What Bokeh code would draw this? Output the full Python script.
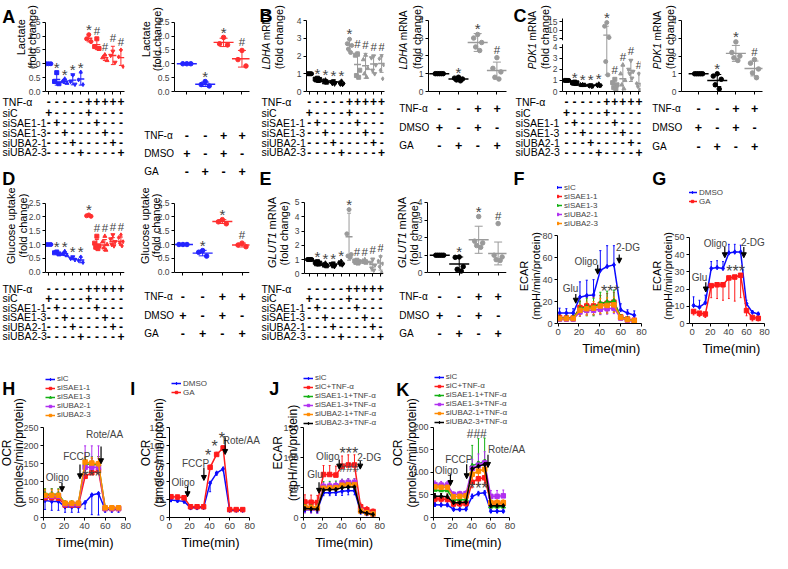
import numpy as np
from bokeh.plotting import figure
from bokeh.models import (ColumnDataSource, LabelSet, FixedTicker, Range1d, GridBox,
                          Arrow, NormalHead, Legend, LegendItem, Spacer, PrintfTickFormatter)
from bokeh.layouts import row, column
from bokeh.embed import file_html
from bokeh.resources import INLINE
from bokeh.core.properties import value

SX = 770 / 788
SY = 550 / 569
FONT = "Liberation Sans"

BLUE = "#2424ff"; RED = "#ff2f2f"; GRAY = "#9a9a9a"; BLACK = "#000000"
C_BLUE = "#0a0aff"; C_RED = "#ff1a1a"; C_GREEN = "#12b012"; C_PURPLE = "#b030f0"; C_ORANGE = "#ff8a00"; C_BLACK = "#000000"

# ---------------- DATA ----------------
left_rows = ["TNF-α", "siC", "siSAE1-1", "siSAE1-3", "siUBA2-1", "siUBA2-3"]
left_marks = [
    ["-", "-", "-", "-", "-", "+", "+", "+", "+", "+"],
    ["+", "-", "-", "-", "-", "+", "-", "-", "-", "-"],
    ["-", "+", "-", "-", "-", "-", "+", "-", "-", "-"],
    ["-", "-", "+", "-", "-", "-", "-", "+", "-", "-"],
    ["-", "-", "-", "+", "-", "-", "-", "-", "+", "-"],
    ["-", "-", "-", "-", "+", "-", "-", "-", "-", "+"],
]
right_rows = ["TNF-α", "DMSO", "GA"]
right_marks = [["-", "-", "+", "+"], ["+", "-", "+", "-"], ["-", "+", "-", "+"]]
sig_left = ["", "*", "*", "*", "*", "*", "#", "#", "#", "#"]
sig_right = ["", "*", "*", "#"]

A_l_points = [[1.0, 1.0, 1.0], [0.68, 0.36, 0.28], [0.45, 0.36, 0.3], [0.6, 0.36, 0.26], [0.7, 0.42, 0.25],
              [2.05, 1.9, 1.8], [1.9, 1.62, 1.55], [1.32, 1.22, 1.12], [1.45, 1.3, 1.05], [1.5, 1.25, 0.9]]
A_l_mean = [1.0, 0.43, 0.37, 0.41, 0.45, 1.92, 1.69, 1.22, 1.3, 1.22]
A_l_sd = [0.02, 0.2, 0.08, 0.17, 0.22, 0.13, 0.18, 0.1, 0.33, 0.28]
A_r_points = [[1.0, 1.0, 1.0], [0.36, 0.25, 0.2], [1.95, 1.72, 1.68], [1.48, 1.15, 0.92]]
A_r_mean = [1.0, 0.26, 1.77, 1.18]
A_r_sd = [0.0, 0.08, 0.15, 0.3]

B_l_points = [[1.0, 1.0, 1.0, 1.0, 1.0], [0.75, 0.7, 0.68, 0.65, 0.62], [0.65, 0.6, 0.55, 0.5, 0.48],
              [0.6, 0.55, 0.5, 0.45, 0.42], [0.6, 0.5, 0.45, 0.4, 0.38], [2.95, 2.7, 2.6, 2.4, 2.2],
              [2.1, 2.05, 1.2, 0.9, 0.8], [2.05, 1.8, 1.3, 1.0, 0.8], [2.0, 1.9, 1.5, 1.2, 1.0],
              [2.0, 1.85, 1.5, 1.2, 0.72]]
B_l_mean = [1.0, 0.68, 0.56, 0.5, 0.47, 2.62, 1.52, 1.45, 1.55, 1.58]
B_l_sd = [0.01, 0.05, 0.08, 0.08, 0.1, 0.35, 0.72, 0.7, 0.5, 0.5]
B_r_points = [[1.0, 1.0, 1.0, 1.0, 1.0], [0.8, 0.75, 0.7, 0.65, 0.6], [3.2, 3.0, 2.75, 2.5, 2.3],
              [1.9, 1.3, 1.1, 0.8, 0.7]]
B_r_mean = [1.0, 0.7, 2.75, 1.18]
B_r_sd = [0.0, 0.08, 0.5, 0.47]

C_l_points = [[1.0, 1.0, 1.0, 1.0, 1.0], [0.85, 0.8, 0.78, 0.75, 0.72], [0.62, 0.6, 0.58, 0.55, 0.55],
              [0.6, 0.55, 0.5, 0.5, 0.45], [0.7, 0.6, 0.55, 0.5, 0.5], [14.5, 12.3, 5.5, 2.7, 1.5],
              [1.1, 0.8, 0.6, 0.35, 0.25], [2.4, 1.6, 1.0, 0.6, 0.25], [2.8, 2.0, 1.8, 1.6, 1.2],
              [1.6, 0.72, 0.6, 0.45, 0.15]]
C_l_mean = [1.0, 0.78, 0.58, 0.52, 0.57, 6.9, 0.62, 1.15, 1.9, 0.72]
C_l_sd = [0.01, 0.05, 0.03, 0.05, 0.08, 5.4, 0.6, 1.15, 1.0, 0.95]
C_l_ticks = [0, 1, 2, 3, 4, 5, 10, 15]
C_r_points = [[1.0, 1.0, 1.0, 1.0, 1.0], [1.0, 0.87, 0.69, 0.38, 0.14], [2.8, 2.2, 2.0, 1.9, 1.75],
              [1.8, 1.6, 1.27, 1.05, 0.78]]
C_r_mean = [1.0, 0.62, 2.15, 1.3]
C_r_sd = [0.0, 0.34, 0.45, 0.42]

D_l_points = [[1.0, 1.0, 1.0], [0.73, 0.7, 0.66], [0.75, 0.65, 0.6], [0.55, 0.5, 0.45], [0.55, 0.42, 0.35],
              [2.07, 2.04, 2.02], [1.3, 1.05, 0.95, 0.9, 0.85], [1.3, 1.1, 1.0, 0.88, 0.8],
              [1.35, 1.2, 1.1, 1.0, 0.95], [1.35, 1.25, 1.1, 1.05, 0.95]]
D_l_mean = [1.0, 0.7, 0.67, 0.5, 0.44, 2.04, 1.0, 0.98, 1.1, 1.12]
D_l_sd = [0.01, 0.03, 0.07, 0.05, 0.1, 0.03, 0.18, 0.2, 0.15, 0.15]
D_r_points = [[1.0, 1.0, 1.0], [0.78, 0.72, 0.58], [1.9, 1.82, 1.75], [1.05, 0.98, 0.92]]
D_r_mean = [1.0, 0.69, 1.83, 0.98]
D_r_sd = [0.0, 0.1, 0.07, 0.07]

E_l_points = [[1.0, 1.0, 1.0, 1.0, 1.0], [0.85, 0.8, 0.75, 0.7, 0.68], [0.75, 0.65, 0.6, 0.55, 0.5],
              [0.75, 0.7, 0.62, 0.55, 0.5], [0.9, 0.8, 0.7, 0.65, 0.6], [4.5, 2.8, 1.35, 1.25, 1.15],
              [0.95, 0.9, 0.85, 0.8, 0.75], [1.0, 0.9, 0.85, 0.8, 0.75], [1.0, 0.8, 0.6, 0.4, 0.25],
              [1.2, 0.9, 0.7, 0.5, 0.1]]
E_l_mean = [1.0, 0.75, 0.62, 0.62, 0.72, 2.6, 0.86, 0.85, 0.65, 0.76]
E_l_sd = [0.01, 0.07, 0.1, 0.1, 0.12, 1.65, 0.1, 0.1, 0.45, 0.5]
E_r_points = [[1.0, 1.0, 1.0, 1.0, 1.0], [0.9, 0.88, 0.35, 0.2, 0.1], [3.2, 1.8, 1.7, 1.55, 1.45],
              [2.8, 1.0, 0.9, 0.75, 0.7]]
E_r_mean = [1.0, 0.5, 1.88, 1.1]
E_r_sd = [0.0, 0.4, 0.77, 0.65]

times = [1.5, 8, 14.5, 21, 27.5, 34, 40.5, 47, 53.5, 60, 66.5, 73]

F_labels = ["siC", "siSAE1-1", "siSAE1-3", "siUBA2-1", "siUBA2-3"]
F_vals = [[9.5, 9.5, 9.5, 24, 25.5, 26, 48.5, 52, 53.5, 12.5, 9.5, 7.5],
          [5.5, 5, 5, 14.5, 16, 16, 17.5, 18.5, 19.5, 6, 4, 3],
          [5, 5, 5, 13.5, 15, 15, 18.5, 19.5, 20.5, 6, 4, 2.5],
          [4, 4, 4, 10.5, 12, 12, 13, 13.5, 14, 5, 3, 2],
          [4.5, 4.5, 4.5, 12, 13.5, 14, 16, 16.5, 17, 5.5, 3.5, 2.5]]
F_err = [[4.5, 4, 4, 14, 14, 14, 18, 19, 17.5, 5.5, 3, 4],
         [2, 2, 2, 6, 8, 8, 8, 9, 9, 2, 1.5, 1.5],
         [2.5, 2.5, 2.5, 7, 8, 8, 10, 10, 10, 2, 2, 1.5],
         [1.5, 1.5, 1.5, 4, 4, 4, 5, 5, 5, 1.5, 1, 1],
         [2, 2, 2, 5, 6, 6, 7, 7, 7, 2, 1.5, 1.5]]
F_dirs = ["up", "both", "both", "both", "both"]
F_words = ["Glu", "Oligo", "2-DG", "***"]
F_wx = [12, 27, 67, 50]
F_wy = [31.6, 56.5, 69, 32]
F_ax = [17, 38, 58.6]; F_ay0 = [27, 53.5, 63]; F_ay1 = [18.5, 45, 55]

G_labels = ["DMSO", "GA"]
G_vals = [[10.5, 9.5, 12, 32, 32.5, 32, 41, 41.5, 41.5, 11.5, 6.5, 5.5],
          [7, 6, 5.5, 22, 22.5, 22.5, 26.5, 27, 28, 7.5, 3.5, 3]]
G_err = [[5, 4, 4.5, 4, 4, 4, 5, 4.5, 4, 2, 1, 1],
         [2, 2, 2, 7, 8, 9, 12, 14, 13, 3, 2, 1.5]]
G_dirs = ["up", "down"]
G_words = ["Glu", "Oligo", "2-DG", "***"]
G_wx = [8, 25.6, 67, 48]
G_wy = [26.7, 46.6, 47, 32]
G_ax = [15, 36, 57]; G_ay0 = [24, 44.4, 44.4]; G_ay1 = [18.3, 38.2, 38.2]

H_labels = ["siC", "siSAE1-1", "siSAE1-3", "siUBA2-1", "siUBA2-3"]
H_vals = [[47.5, 45, 45, 29.5, 29.5, 29.5, 42, 63, 67, 22.5, 22.5, 22.5],
          [55, 55, 54, 35, 35, 35, 115, 125, 130, 25, 25, 25],
          [65, 65, 65, 40, 40, 40, 150, 148, 148, 27, 27, 27],
          [60, 60, 60, 38, 38, 38, 140, 140, 140, 25, 25, 25],
          [62, 62, 62, 40, 40, 40, 155, 152, 150, 27, 27, 27]]
H_err = [[25, 25, 25, 15, 15, 15, 18, 55, 60, 8, 8, 8],
         [25, 25, 25, 8, 8, 8, 40, 40, 40, 6, 6, 6],
         [15, 15, 15, 6, 6, 6, 18, 22, 22, 6, 6, 6],
         [12, 12, 12, 6, 6, 6, 60, 60, 60, 6, 6, 6],
         [15, 15, 15, 6, 6, 6, 15, 15, 15, 6, 6, 6]]
H_dirs = ["down", "up", "up", "up", "up"]
H_words = ["Oligo", "FCCP", "Rote/AA", "***"]
H_wx = [13.6, 32.4, 59.4, 46.7]
H_wy = [112, 170, 231, 124]
H_ax = [18, 35.5, 56]; H_ay0 = [97, 148, 198]; H_ay1 = [72, 108, 150]

I_labels = ["DMSO", "GA"]
I_vals = [[24.5, 23.5, 22.5, 13.5, 13.5, 14, 48, 62, 68, 10, 10, 10],
          [29, 28.5, 27.5, 15, 15, 15, 70, 88, 97, 11, 11, 11]]
I_err = [[2, 2, 2, 2, 2, 2, 12, 3, 3, 1.5, 1.5, 1.5],
         [2.5, 2.5, 2.5, 2, 2, 2, 3, 3, 3, 1.5, 1.5, 1.5]]
I_dirs = ["down", "up"]
I_words = ["Oligo", "FCCP", "Rote/AA", "*", "*", "*"]
I_wx = [13.6, 26, 71.6, 38.6, 45, 52.3]
I_wy = [49.5, 75, 108, 91.3, 103.4, 115.6]
I_ax = [18, 34.3, 55.5]; I_ay0 = [43.6, 69.7, 112]; I_ay1 = [29, 51.7, 88]

JK_labels = ["siC", "siC+TNF-α", "siSAE1-1+TNF-α", "siSAE1-3+TNF-α", "siUBA2-1+TNF-α", "siUBA2-3+TNF-α"]
J_vals = [[13, 13, 12.5, 41.5, 41.5, 42, 44, 45, 45, 9, 6, 5],
          [26, 25.5, 25, 72, 72, 71, 86, 88, 88, 18, 13, 10],
          [18, 17.5, 17, 50, 50.5, 51, 56, 57, 57, 12, 8, 6],
          [16, 15.5, 15, 52, 52.5, 53, 58, 59, 59, 12, 8, 6],
          [17, 16.5, 16, 49, 49.5, 50, 54, 55, 55, 11, 8, 6],
          [15, 14.5, 14, 46, 47, 47, 50, 51, 51, 10, 7, 5]]
J_err = [[5, 5, 5, 5, 5, 5, 7, 7, 7, 3, 2, 2],
         [12, 12, 12, 15, 15, 15, 17, 17, 17, 6, 5, 4],
         [5, 5, 5, 10, 10, 10, 8, 8, 8, 3, 3, 2],
         [8, 8, 8, 6, 6, 6, 6, 6, 6, 3, 2, 2],
         [6, 6, 6, 6, 6, 6, 6, 6, 6, 3, 2, 2],
         [5, 5, 5, 5, 5, 5, 5, 5, 5, 3, 2, 2]]
J_dirs = ["both", "up", "both", "both", "both", "both"]
J_words = ["Glu", "Oligo", "***", "###", "2-DG"]
J_wx = [12, 25.5, 47.7, 48.3, 69]
J_wy = [72, 102, 113, 83.6, 100]
J_ax = [16.3, 37.5, 59.6]; J_ay0 = [59, 97, 94.6]; J_ay1 = [40.5, 81, 81]

K_vals = [[28.5, 28, 28, 18, 18, 18.5, 47, 53, 55, 14, 14, 14],
          [41, 41, 40, 30, 30.5, 31, 78, 86, 88, 32, 32, 32],
          [61, 60, 60, 39, 39.5, 40, 115, 120, 124, 24, 24, 24],
          [73, 72, 72, 51, 52, 53, 109, 116, 121, 47, 47, 48],
          [68, 67, 67, 46, 47, 48, 96, 103, 107, 33, 33, 33],
          [47, 47, 46, 33, 33, 34, 108, 114, 118, 26, 26, 26]]
K_err = [[4, 4, 4, 3, 3, 3, 5, 5, 5, 3, 3, 3],
         [12, 12, 12, 6, 6, 6, 12, 12, 12, 6, 6, 6],
         [10, 10, 10, 8, 8, 8, 45, 55, 52, 8, 8, 8],
         [8, 8, 8, 6, 6, 6, 20, 25, 25, 13, 13, 13],
         [8, 8, 8, 6, 6, 6, 15, 15, 15, 6, 6, 6],
         [6, 6, 6, 5, 5, 5, 10, 10, 10, 5, 5, 5]]
K_dirs = ["both", "both", "up", "up", "both", "both"]
K_words = ["Oligo", "FCCP", "###", "***", "Rote/AA"]
K_wx = [13.6, 26.5, 45.2, 47, 76.5]
K_wy = [105, 128.6, 186, 71, 150]
K_ax = [17.7, 34.7, 57]; K_ay0 = [96, 118, 139]; K_ay1 = [71, 86, 111]

# ---------------- HELPERS ----------------
AW = {'L': .556, 'D': .722, 'H': .722, 'A': .667, 'P': .667, 'K': .667, '1': .556, 'G': .778,
      'U': .722, 'T': .611, ' ': .278, 'm': .833, 'R': .722, 'N': .722}


def tw(s, size):
    return sum(AW.get(c, .556) for c in s) * size


TL = dict(x=[], y=[], t=[], size=[], align=[], base=[], angle=[], style=[])


def tl_add(text, x, y, size, align="left", base="middle", angle=0.0, style="normal"):
    TL["x"].append(x); TL["y"].append(y); TL["t"].append(text)
    TL["size"].append(f"{size}px"); TL["align"].append(align); TL["base"].append(base)
    TL["angle"].append(angle); TL["style"].append(style)


def tl_ylab(line1, line2, x1, x2, yc, size, gene=None, size1=None, yc1=None):
    ang = np.pi / 2
    s1 = size if size1 is None else size1
    y1 = yc if yc1 is None else yc1
    if gene is None:
        tl_add(line1, x1, y1, s1, "center", "middle", ang)
    else:
        wg = tw(gene, s1) / SY
        wsp = tw(" ", s1) / SY
        wr = tw(line1, s1) / SY
        bottom = y1 + (wg + wsp + wr) / 2
        tl_add(gene, x1, bottom, s1, "left", "middle", ang, "italic")
        tl_add(line1, x1, bottom - wg - wsp, s1, "left", "middle", ang)
    tl_add(line2, x2, yc, size, "center", "middle", ang)


def make_fig(region, band, frame, xr, yr, ext_top=0.0, ext_right=0.0, ext_bottom=0.0):
    fx0, fy0, fx1, fy1 = frame
    ppx_ref = (fx1 - fx0) / (xr[1] - xr[0])
    ppy_ref = (fy1 - fy0) / (yr[1] - yr[0])
    xr2 = (xr[0], xr[1] + ext_right / ppx_ref)
    yr2 = (yr[0] - ext_bottom / ppy_ref, yr[1] + ext_top / ppy_ref)
    L, R = round(region[0] * SX), round(region[1] * SX)
    T, B = round(band[0] * SY), round(band[1] * SY)
    FL, FT = round(fx0 * SX), round((fy0 - ext_top) * SY)
    FR, FB = round((fx1 + ext_right) * SX), round((fy1 + ext_bottom) * SY)
    p = figure(width=R - L, height=B - T, x_range=Range1d(*xr2), y_range=Range1d(*yr2),
               min_border_left=FL - L, min_border_right=R - FR,
               min_border_top=FT - T, min_border_bottom=B - FB,
               output_backend="svg", toolbar_location=None, tools="")
    p.outline_line_color = None
    p.xgrid.visible = False
    p.ygrid.visible = False
    p.border_fill_alpha = 0
    p.background_fill_alpha = 0
    info = dict(FL=FL, FT=FT, FR=FR, FB=FB, W=FR - FL, H=FB - FT, xr=xr2, yr=yr2,
                fx0=fx0, xr0=xr[0], ppx_ref=ppx_ref, fy1=fy1, yr0=yr[0], ppy_ref=ppy_ref)
    return p, info


def style_axis(ax, ticks, size, show=True, fmt=None, overrides=None, bounds=None):
    ax.ticker = FixedTicker(ticks=list(ticks), minor_ticks=[])
    ax.axis_line_color = "black"
    ax.axis_line_width = 1
    ax.major_tick_line_color = "black"
    ax.major_tick_out = 3
    ax.major_tick_in = 0
    ax.minor_tick_line_color = None
    ax.major_label_text_font = FONT
    ax.major_label_text_font_size = f"{size}px"
    ax.major_label_standoff = 2
    if fmt is not None:
        ax.formatter = fmt
    if not show:
        ax.major_label_overrides = {t: "" for t in ticks}
    elif overrides is not None:
        ax.major_label_overrides = overrides
    if bounds is not None:
        ax.bounds = bounds


LEFT_MARKERS = ["circle", "square", "triangle", "inverted_triangle", "diamond"] * 2


def dot_panel(p, info, points, means, sds, colors, markers, sig, msize, mean_hw_px, cap_hw_px, jit_px, disp=None):
    f = disp if disp is not None else (lambda v: np.asarray(v, float))
    ppx = info["W"] / (info["xr"][1] - info["xr"][0])
    ppy = info["H"] / (info["yr"][1] - info["yr"][0])
    n = len(means)
    g = np.arange(1, n + 1, dtype=float)
    m = np.array(means, float)
    s = np.array(sds, float)
    mhw, chw, jit = mean_hw_px / ppx, cap_hw_px / ppx, jit_px / ppx
    p.segment(x0=g, x1=g, y0=np.maximum(f(m - s), 0), y1=f(m + s), line_color=colors, line_width=1)
    p.segment(x0=g - chw, x1=g + chw, y0=f(m + s), y1=f(m + s), line_color=colors, line_width=1)
    lo = f(m - s)
    keep = lo >= 0
    p.segment(x0=(g - chw)[keep], x1=(g + chw)[keep], y0=lo[keep], y1=lo[keep],
              line_color=list(np.array(colors)[keep]), line_width=1)
    p.segment(x0=g - mhw, x1=g + mhw, y0=f(m), y1=f(m), line_color=colors, line_width=1.4)
    pattern = [0.0, -1.0, 1.0, -0.5, 0.5, 0.0]
    xs, ys, cs, ms = [], [], [], []
    for i, pts in enumerate(points):
        for k, v in enumerate(pts):
            xs.append(g[i] + pattern[k % len(pattern)] * jit)
            ys.append(float(f(v)))
            cs.append(colors[i])
            ms.append(markers[i])
    src = ColumnDataSource(dict(x=xs, y=ys, c=cs, mk=ms))
    p.scatter(x="x", y="y", marker="mk", size=msize, fill_color="c", line_color="c", source=src)
    tops = np.array([max(max(pts), mm + ss) for pts, mm, ss in zip(points, m, s)])
    off = np.array([5.0 if t == "*" else 8.0 for t in sig])
    ys2 = f(tops) + off / ppy
    fs = ["15px" if t == "*" else "11.5px" for t in sig]
    ssrc = ColumnDataSource(dict(x=g, y=ys2, t=sig, fs=fs))
    p.add_layout(LabelSet(x="x", y="y", text="t", source=ssrc, text_font=value(FONT),
                          text_font_size="fs", text_align="center", text_baseline="middle"))


def tl_table(info, rows, marks, rows_y, label_x, lab_size, sym_size):
    for r, lbl in enumerate(rows):
        tl_add(lbl, label_x, rows_y[r], lab_size, "left", "middle")
        for i, t in enumerate(marks[r]):
            gx = info["fx0"] + (i + 1 - info["xr0"]) * info["ppx_ref"]
            tl_add(t, gx, rows_y[r], sym_size, "center", "middle", 0.0, "bold")


def dot_figure(region, band, frame, xr, yr, yticks, points, means, sds, colors, sig, rows, marks,
               rows_y, label_x, ylabel, wide, row_top, row_bottom, fmt=None, overrides=None, disp=None):
    ext_top = frame[1] - row_top
    ext_bottom = row_bottom - frame[3]
    p, info = make_fig(region, band, frame, xr, yr, ext_top=ext_top, ext_bottom=max(ext_bottom, 0))
    style_axis(p.yaxis[0], yticks, 8.5, fmt=fmt, overrides=overrides, bounds=yr)
    style_axis(p.xaxis[0], list(range(1, len(means) + 1)), 8.5, show=False)
    if ext_bottom > 1:
        p.xaxis[0].fixed_location = yr[0]
    if wide:
        dot_panel(p, info, points, means, sds, colors, ["circle"] * len(means), sig, 4.5, 10, 4, 4, disp)
        tl_table(info, rows, marks, rows_y, label_x, 10, 12.5)
    else:
        dot_panel(p, info, points, means, sds, colors, LEFT_MARKERS, sig, 4, 3.5, 2, 2.2, disp)
        tl_table(info, rows, marks, rows_y, label_x, 10.5, 12)
    tl_ylab(*ylabel)
    return p, info


def ts_figure(region, band, frame, xr, yr, yticks, vals, errs, dirs, colors, markers, labels,
              leg_x, leg_yc, words, wx, wy, ax_x, ay0, ay1, ylabel, tlabel, ext_right, row_top):
    ext_top = frame[1] - row_top
    p, info = make_fig(region, band, frame, xr, yr, ext_top=ext_top, ext_right=ext_right)
    style_axis(p.xaxis[0], [0, 20, 40, 60, 80], 9.5, bounds=xr)
    style_axis(p.yaxis[0], yticks, 9, bounds=yr)
    ppy = info["H"] / (info["yr"][1] - info["yr"][0])
    t = np.array(times, float)
    cap = 1.0
    for v, e, d, c in zip(vals, errs, dirs, colors):
        v = np.array(v, float)
        e = np.array(e, float)
        lo = np.maximum(v - e, 0) if d in ("down", "both") else v
        hi = v + e if d in ("up", "both") else v
        p.segment(x0=t, x1=t, y0=lo, y1=hi, line_color=c, line_width=1)
        if d in ("up", "both"):
            p.segment(x0=t - cap, x1=t + cap, y0=hi, y1=hi, line_color=c, line_width=1)
        if d in ("down", "both"):
            p.segment(x0=t - cap, x1=t + cap, y0=lo, y1=lo, line_color=c, line_width=1)
    items = []
    for v, c, mk, lb in zip(vals, colors, markers, labels):
        r1 = p.line(t, v, line_color=c, line_width=1.5)
        r2 = p.scatter(t, v, marker=mk, size=4.5, fill_color=c, line_color=c)
        items.append(LegendItem(label=lb, renderers=[r1, r2]))
    row_h = 8.0
    n = len(items)
    bottom_px = leg_yc * SY + n * row_h / 2
    leg = Legend(items=items, location=(leg_x * SX - info["FL"], info["FB"] - bottom_px),
                 glyph_width=10, glyph_height=6, label_height=6, label_standoff=2, spacing=0,
                 padding=0, margin=0, border_line_color=None, background_fill_alpha=0,
                 label_text_font=FONT, label_text_font_size="8px")
    p.add_layout(leg)
    fs = []
    yy = []
    for w, y in zip(words, wy):
        if set(w) == {"*"}:
            fs.append("16px")
            yy.append(y - 3.5 / ppy)
        elif set(w) == {"#"}:
            fs.append("12px")
            yy.append(y)
        else:
            fs.append("10px")
            yy.append(y)
    src = ColumnDataSource(dict(x=wx, y=yy, t=words, fs=fs))
    p.add_layout(LabelSet(x="x", y="y", text="t", source=src, text_font=value(FONT),
                          text_font_size="fs", text_align="center", text_baseline="middle"))
    for x, y0, y1 in zip(ax_x, ay0, ay1):
        p.add_layout(Arrow(end=NormalHead(size=5, fill_color="black", line_color="black", line_width=1),
                           x_start=x, y_start=y0, x_end=x, y_end=y1, line_width=1.2, line_color="black"))
    tl_ylab(*ylabel)
    tl_add("Time(min)", tlabel[0], tlabel[1], 13, "center", "middle")
    return p


def c_disp(v):
    return np.interp(np.asarray(v, float), [0, 4.1, 5, 15, 20], [0, 4.1, 4.8, 6.3, 7.05])


R1 = (0, 186)
R2 = (186, 384)
R3 = (384, 569)
T1, B1 = 3, 94
T2, B2 = 189, 334.3
T3 = 387
col_l = [BLUE] * 5 + [RED] * 5
col_r = [BLUE, BLUE, RED, RED]
gcol_l = [BLACK] * 5 + [GRAY] * 5
gcol_r = [BLACK, BLACK, GRAY, GRAY]
rows_left_1 = [105, 116, 126.5, 137, 147, 157]
rows_left_2 = [298, 308, 318, 327.5, 337.5, 347.5]

# ---------- Row 1 ----------
pA_l, _ = dot_figure((0, 130), R1, (46, 22.3, 127, 94), (0.6, 10.45), (0, 2.5),
                     [0, 0.5, 1, 1.5, 2, 2.5], A_l_points, A_l_mean, A_l_sd, col_l, sig_left,
                     left_rows, left_marks, rows_left_1, 2,
                     ("Lactate", "(fold change)", 21, 32, 38, 11), False, T1, B1,
                     fmt=PrintfTickFormatter(format="%.1f"))
pA_r, _ = dot_figure((130, 260), R1, (178, 22.3, 255, 94), (0.33, 4.41), (0, 2.5),
                     [0, 0.5, 1, 1.5, 2, 2.5], A_r_points, A_r_mean, A_r_sd, col_r, sig_right,
                     right_rows, right_marks, [140, 158, 177], 147,
                     ("Lactate", "(fold change)", 149, 160, 40, 11), True, T1, B1,
                     fmt=PrintfTickFormatter(format="%.1f"))
pB_l, _ = dot_figure((260, 395), R1, (313, 20.7, 393, 94), (0.64, 10.36), (0, 4),
                     [0, 1, 2, 3, 4], B_l_points, B_l_mean, B_l_sd, gcol_l, sig_left,
                     left_rows, left_marks, rows_left_1, 267,
                     ("mRNA", "(fold change)", 272, 285, 38, 11, "LDHA", 10, 41), False, T1, B1)
pB_r, _ = dot_figure((395, 520), R1, (438, 20.3, 518, 94), (0.44, 4.5), (0, 4),
                     [0, 1, 2, 3, 4], B_r_points, B_r_mean, B_r_sd, gcol_r, sig_right,
                     right_rows, right_marks, [112, 131, 150], 408,
                     ("mRNA", "(fold change)", 412, 426, 38, 11, "LDHA", 10, 41), True, T1, B1)
c_ticks_disp = [float(v) for v in c_disp(C_l_ticks)]
c_over = {c_ticks_disp[i]: str(C_l_ticks[i]) for i in range(len(C_l_ticks))}
pC_l, iC_l = dot_figure((520, 660), R1, (575, 18.4, 655, 94), (0.48, 10.2), (0, 6.6),
                        c_ticks_disp, C_l_points, C_l_mean, C_l_sd, gcol_l, sig_left,
                        left_rows, left_marks, rows_left_1, 527,
                        ("mRNA", "(fold change)", 544, 557, 38, 11, "PDK1", 10, 41), False, T1, B1,
                        overrides=c_over, disp=c_disp)
pC_r, _ = dot_figure((660, 788), R1, (696.7, 20.7, 780, 94), (0.08, 4.43), (0, 4),
                     [0, 1, 2, 3, 4], C_r_points, C_r_mean, C_r_sd, gcol_r, sig_right,
                     right_rows, right_marks, [112, 131, 150.7], 667,
                     ("mRNA", "(fold change)", 672.5, 685, 38, 11, "PDK1", 10, 41), True, T1, B1)

# ---------- Row 2 ----------
pD_l, _ = dot_figure((0, 130), R2, (46, 209.3, 127, 281), (0.6, 10.45), (0, 2.5),
                     [0, 0.5, 1, 1.5, 2, 2.5], D_l_points, D_l_mean, D_l_sd, col_l, sig_left,
                     left_rows, left_marks, rows_left_2, 2,
                     ("Glucose uptake", "(fold change)", 11, 23, 233, 11), False, T2, B2,
                     fmt=PrintfTickFormatter(format="%.1f"))
pD_r, _ = dot_figure((130, 260), R2, (178, 209.3, 255, 281), (0.57, 4.38), (0, 2.5),
                     [0, 0.5, 1, 1.5, 2, 2.5], D_r_points, D_r_mean, D_r_sd, col_r, sig_right,
                     right_rows, right_marks, [306.7, 326, 345], 147,
                     ("Glucose uptake", "(fold change)", 147.5, 159, 233, 11), True, T2, B2,
                     fmt=PrintfTickFormatter(format="%.1f"))
pE_l, _ = dot_figure((260, 395), R2, (310.7, 208.7, 392, 282.7), (0.35, 10.37), (0, 5),
                     [0, 1, 2, 3, 4, 5], E_l_points, E_l_mean, E_l_sd, gcol_l, sig_left,
                     left_rows, left_marks, rows_left_2, 267,
                     ("mRNA", "(fold change)", 277.5, 290, 241, 11, "GLUT1", 11, 240), False, T2, B2)
pE_r, _ = dot_figure((395, 520), R2, (436.7, 208.7, 518, 281.7), (0.37, 4.43), (0, 4),
                     [0, 1, 2, 3, 4], E_r_points, E_r_mean, E_r_sd, gcol_r, sig_right,
                     right_rows, right_marks, [306, 326, 345], 408,
                     ("mRNA", "(fold change)", 411, 423, 241, 11, "GLUT1", 11, 240), True, T2, B2)
c5 = [C_BLUE, C_RED, C_GREEN, C_PURPLE, C_ORANGE]
m5 = ["diamond", "square", "triangle", "square", "square"]
c2 = [C_BLUE, C_RED]
m2 = ["diamond", "square"]
c6 = [C_BLUE, C_RED, C_GREEN, C_PURPLE, C_ORANGE, C_BLACK]
m6 = ["diamond", "square", "triangle", "square", "square", "diamond"]
pF = ts_figure((520, 662), R2, (570, 243.3, 656, 334.3), (-0.5, 80), (0, 80), [0, 20, 40, 60, 80],
               F_vals, F_err, F_dirs, c5, m5, F_labels, 565, 215, F_words, F_wx, F_wy,
               F_ax, F_ay0, F_ay1, ("ECAR", "(mpH/min/protein)", 536, 548, 285, 11), (625, 360), 4, T2)
pG = ts_figure((662, 788), R2, (705, 245, 782, 334.3), (-3, 80), (0, 50), [0, 10, 20, 30, 40, 50],
               G_vals, G_err, G_dirs, c2, m2, G_labels, 703, 204.7, G_words, G_wx, G_wy,
               G_ax, G_ay0, G_ay1, ("ECAR", "(mpH/min/protein)", 672, 683, 285, 11), (748, 360), 5, T2)

# ---------- Row 3 ----------
pH = ts_figure((0, 142), R3, (44.3, 442.3, 128.3, 535), (0, 80), (0, 250), [0, 50, 100, 150, 200, 250],
               H_vals, H_err, H_dirs, c5, m5, H_labels, 46, 413.3, H_words, H_wx, H_wy,
               H_ax, H_ay0, H_ay1, ("OCR", "(pmoles/min/protein)", 7, 19, 468, 12), (86, 561), 10, T3)
pI = ts_figure((142, 270), R3, (173.3, 442.3, 255, 535), (0, 80), (0, 125), [0, 25, 50, 75, 100, 125],
               I_vals, I_err, I_dirs, c2, m2, I_labels, 175, 402, I_words, I_wx, I_wy,
               I_ax, I_ay0, I_ay1, ("OCR", "(pmoles/min/protein)", 149, 162, 468, 12), (215, 561), 13, T3)
pJ = ts_figure((270, 397), R3, (310, 442.3, 388.3, 535), (0, 80), (0, 150), [0, 50, 100, 150],
               J_vals, J_err, J_dirs, c6, m6, JK_labels, 310, 417.3, J_words, J_wx, J_wy,
               J_ax, J_ay0, J_ay1, ("ECAR", "(mpH/min/protein)", 284, 299, 468, 12), (351.7, 561), 8, T3)
pK = ts_figure((397, 545), R3, (443.3, 441.7, 521.7, 535), (0, 80), (0, 200), [0, 50, 100, 150, 200],
               K_vals, K_err, K_dirs, c6, m6, JK_labels, 444, 416, K_words, K_wx, K_wy,
               K_ax, K_ay0, K_ay1, ("OCR", "(pmoles/min/protein)", 406.5, 421, 468, 12), (483, 561), 20, T3)

for letter, lx, ly in [("A", 1.7, 16.7), ("B", 265, 16.5), ("C", 525, 16.5), ("D", 1.7, 185),
                       ("E", 265, 185), ("F", 525, 185), ("G", 667, 185), ("H", 1.7, 401.7),
                       ("I", 132.7, 401.7), ("J", 275, 401.7), ("K", 405, 403)]:
    tl_add(letter, lx, ly, 18, "left", "alphabetic", 0.0, "bold")

sp = Spacer(width=round(788 * SX) - round(545 * SX), height=round(569 * SY) - round(384 * SY))

panels = column(row(pA_l, pA_r, pB_l, pB_r, pC_l, pC_r),
                row(pD_l, pD_r, pE_l, pE_r, pF, pG),
                row(pH, pI, pJ, pK, sp))

tl = figure(width=round(788 * SX), height=round(569 * SY), x_range=Range1d(0, 788), y_range=Range1d(569, 0),
            min_border=0, min_border_left=0, min_border_right=0, min_border_top=0, min_border_bottom=0,
            output_backend="svg", toolbar_location=None, tools="",
            x_axis_location=None, y_axis_location=None)
tl.outline_line_color = None
tl.xgrid.visible = False
tl.ygrid.visible = False
tl.border_fill_alpha = 0
tl.background_fill_alpha = 0

# break in the C-left value axis (between the 0-4 and 5-15 segments)
gap_lo = iC_l["fy1"] - (4.25 - iC_l["yr0"]) * iC_l["ppy_ref"]
gap_hi = iC_l["fy1"] - (4.62 - iC_l["yr0"]) * iC_l["ppy_ref"]
tl.quad(left=[iC_l["fx0"] - 2.5], right=[iC_l["fx0"] + 1.5], top=[gap_hi], bottom=[gap_lo],
        fill_color="white", line_color=None)

tsrc = ColumnDataSource(TL)
tl.text(x="x", y="y", text="t", source=tsrc, text_font=value(FONT), text_font_size="size",
        text_align="align", text_baseline="base", angle="angle", text_font_style="style", text_color="black")

layout = GridBox(children=[(panels, 0, 0), (tl, 0, 0)])

open("out.html", "w").write(file_html(layout, INLINE))
